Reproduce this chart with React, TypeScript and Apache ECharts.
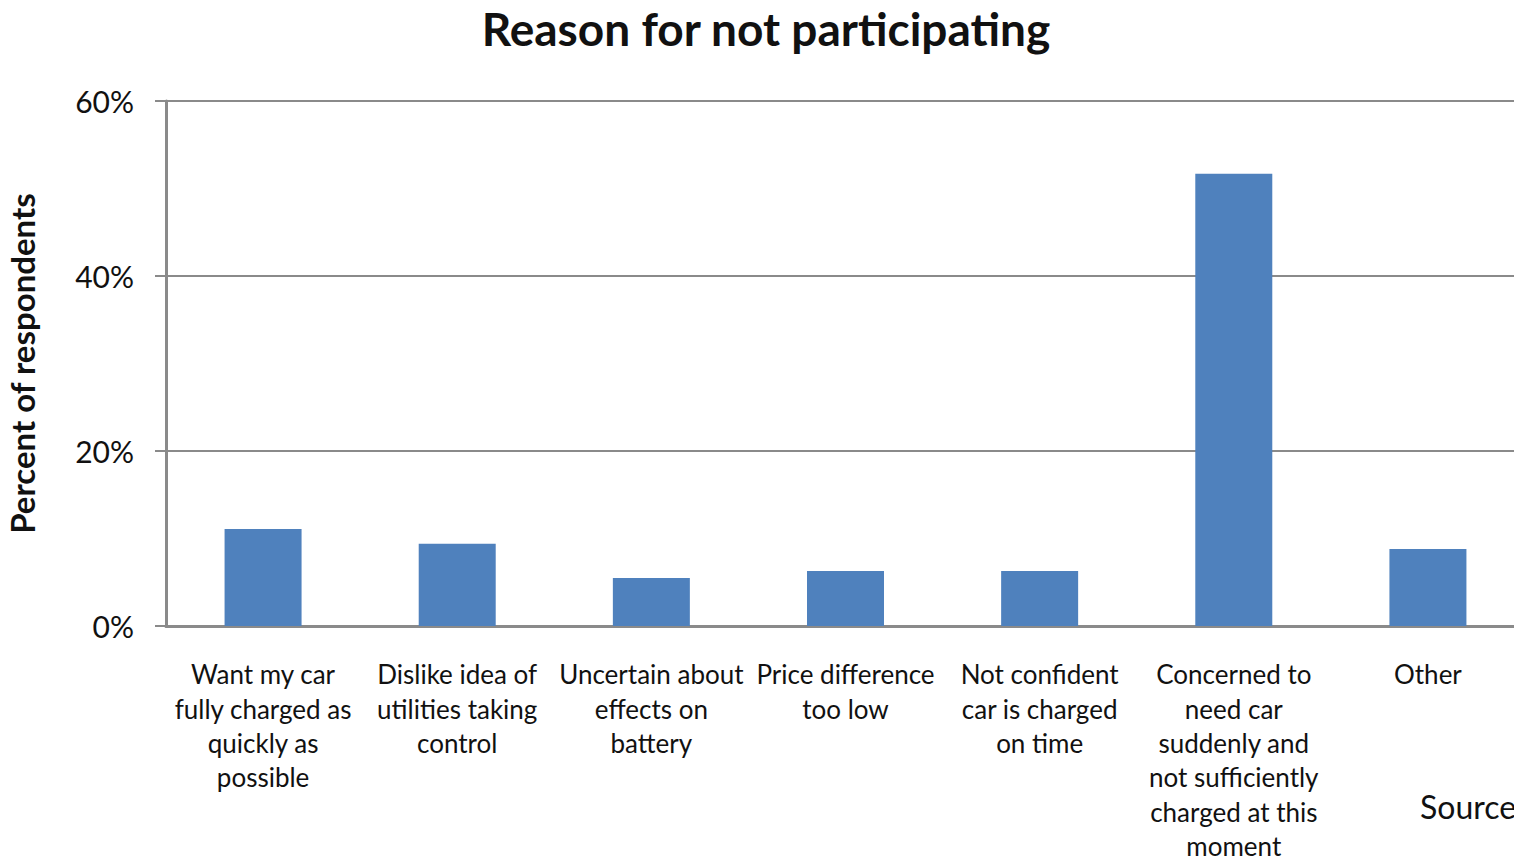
import React, { useEffect, useRef } from "react";
import * as echarts from "echarts";

const categories = [
  "Want my car\nfully charged as\nquickly as\npossible",
  "Dislike idea of\nutilities taking\ncontrol",
  "Uncertain about\neffects on\nbattery",
  "Price difference\ntoo low",
  "Not confident\ncar is charged\non time",
  "Concerned to\nneed car\nsuddenly and\nnot sufficiently\ncharged at this\nmoment",
  "Other",
];
const percentValues = [11.1, 9.4, 5.5, 6.3, 6.3, 51.7, 8.8];
const yTicks = { min: 0, max: 60, interval: 20 };

const FONT = "Lato, 'Open Sans', sans-serif";
const TEXT = "#111111";
const LINE = "#8a8a8a";

export default function App() {
  const ref = useRef<HTMLDivElement>(null);

  useEffect(() => {
    document.body.style.margin = "0";
    document.body.style.overflow = "hidden";
    const chart = echarts.init(ref.current!, null, { renderer: "svg" });
    chart.setOption({
      animation: false,
      backgroundColor: "#ffffff",
      textStyle: { fontFamily: FONT, color: TEXT },
      title: {
        text: "Reason for not participating",
        left: 761,
        top: 0,
        textAlign: "center",
        textStyle: { fontFamily: FONT, fontSize: 46, fontWeight: "bold", color: TEXT },
      },
      grid: {
        left: 166,
        top: 101,
        height: 525,
        width: 1359,
        containLabel: false,
        outerBoundsMode: "none",
      },
      xAxis: {
        type: "category",
        data: categories,
        axisLine: { show: true, lineStyle: { color: LINE, width: 3 } },
        axisTick: { show: false },
        axisLabel: {
          interval: 0,
          margin: 31,
          fontFamily: FONT,
          fontSize: 26,
          lineHeight: 34.4,
          color: TEXT,
          align: "center",
        },
      },
      yAxis: {
        type: "value",
        min: yTicks.min,
        max: yTicks.max,
        interval: yTicks.interval,
        name: "Percent of respondents",
        nameLocation: "middle",
        nameGap: 128,
        nameRotate: 90,
        nameTextStyle: { fontFamily: FONT, fontSize: 33, fontWeight: "bold", color: TEXT },
        axisLine: { show: true, lineStyle: { color: LINE, width: 3 } },
        axisTick: { show: true, length: 11, lineStyle: { color: LINE, width: 2 } },
        axisLabel: {
          formatter: "{value}%",
          margin: 32,
          fontFamily: FONT,
          fontSize: 30,
          color: TEXT,
        },
        splitLine: { show: true, lineStyle: { color: LINE, width: 2 } },
      },
      series: [
        {
          type: "bar",
          data: percentValues,
          barWidth: 77,
          itemStyle: { color: "#4f81bd" },
        },
      ],
      graphic: [
        {
          type: "text",
          left: 1420,
          top: 790,
          style: { text: "Source", fontFamily: FONT, fontSize: 32, fill: TEXT },
        },
      ],
    });
    return () => chart.dispose();
  }, []);

  return <div ref={ref} style={{ width: 1514, height: 858 }} />;
}
